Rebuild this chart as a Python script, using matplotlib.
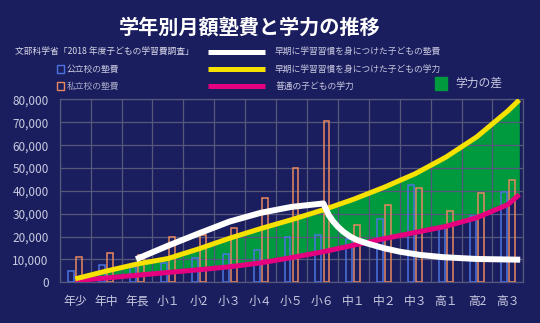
import numpy as np
import matplotlib
matplotlib.use("Agg")
from matplotlib import pyplot as plt
from matplotlib.lines import Line2D
from matplotlib.patches import Rectangle

plt.rcParams['font.family'] = ['Noto Sans CJK JP', 'DejaVu Sans']

# Grades and monthly cram-school costs (yen)
grades = ["年少", "年中", "年長", "小１", "小2", "小３", "小４", "小５", "小６",
          "中１", "中２", "中３", "高１", "高2", "高３"]
public_cost = [4800, 7500, 6900, 8300, 10500, 12300, 14200, 20000, 20700,
               19000, 27800, 42500, 24700, 29000, 39700]
private_cost = [11200, 13000, 12000, 20000, 20500, 23700, 36800, 50000, 70400,
                24900, 33900, 41200, 31400, 39100, 44600]

# Ability curves (yellow: early study habit, pink: ordinary)
curve_x = [0, 1, 2, 3, 4, 5, 6, 7, 8, 9, 10, 11, 12, 13, 14, 14.37]
early_ability = [1500, 4900, 8000, 10400, 14650, 19300, 23500, 27400, 31600,
                 36300, 41600, 47500, 54800, 63700, 75000, 79800]
normal_ability = [700, 1900, 3100, 4300, 5500, 6800, 8500, 10800, 13300,
                  16200, 19100, 21800, 24500, 28300, 34000, 38400]

# Cram cost of children with early study habit (white)
white_x = [1.97, 3, 4, 5, 6, 7, 8.03, 8.1, 8.2, 8.35, 8.5, 8.67, 8.9, 9.11,
           9.5, 10, 10.5, 11.15, 11.9, 13, 14.4]
white_cost = [10100, 16000, 21400, 26600, 30400, 33000, 34500, 32500, 29500,
              26600, 24300, 22200, 20000, 18550, 16800, 14900, 13400, 12000,
              11000, 10200, 9900]

bg = '#1b1e5e'
grid_c = '#55587a'
text_c = '#c8cae0'
blue = '#4a74e0'
orange = '#e8875f'
green = '#009a3e'
yellow = '#f7e100'
pink = '#e4007f'

fig = plt.figure(figsize=(5.4, 3.23), dpi=100, facecolor=bg)
ax = fig.add_axes([0.1107, 0.126, 0.8584, 0.566], facecolor=bg)

x = np.arange(len(grades))
ax.fill_between(curve_x, normal_ability, early_ability, color=green, zorder=1, linewidth=0)
ax.bar(x - 0.13, public_cost, width=0.19, fill=False, edgecolor=blue, linewidth=1.1, zorder=2.6)
ax.bar(x + 0.13, private_cost, width=0.19, fill=False, edgecolor=orange, linewidth=1.1, zorder=2.6)
ax.plot(curve_x, normal_ability, color=pink, linewidth=3.6, solid_capstyle='butt', zorder=3)
ax.plot(curve_x, early_ability, color=yellow, linewidth=3.6, solid_capstyle='butt', zorder=3.1)
ax.plot(white_x, white_cost, color='white', linewidth=4.3, solid_capstyle='butt',
        solid_joinstyle='round', zorder=4)

ax.set_xlim(-0.5, 14.5)
ax.set_ylim(0, 80000)
ax.set_xticks(x)
ax.set_xticklabels(grades)
ax.set_xticks(np.arange(-0.5, 15, 1), minor=True)
ax.set_yticks(np.arange(0, 80001, 10000))
ax.yaxis.set_major_formatter(matplotlib.ticker.FuncFormatter(lambda v, p: f"{int(v):,}"))
ax.set_axisbelow(False)
ax.grid(True, axis='y', which='major', color=grid_c, linewidth=0.9)
ax.grid(True, axis='x', which='minor', color=grid_c, linewidth=0.9)
ax.tick_params(axis='both', which='both', length=0, colors=text_c, labelsize=8.5)
ax.tick_params(axis='x', pad=9)
ax.tick_params(axis='y', pad=8)
for s in ax.spines.values():
    s.set_color(grid_c)
    s.set_linewidth(0.9)

# Title
fig.text(250 / 540, 1 - 27 / 323, "学年別月額塾費と学力の推移", color='white',
         fontsize=14.5, fontweight='bold', ha='center', va='center')

# Legend, drawn by hand
def fy(py):
    return 1 - py / 323

def fx(px):
    return px / 540

leg_fs = 6.3
fig.text(fx(15), fy(51.5), "文部科学省「2018 年度子どもの学習費調査」", color='#d8d8e8',
         fontsize=leg_fs, va='center')
fig.patches.append(Rectangle((fx(57), fy(72.5)), fx(7), 7 / 323, fill=False,
                             edgecolor=blue, linewidth=1, transform=fig.transFigure))
fig.text(fx(67), fy(69), "公立校の塾費", color='#c8c8e0', fontsize=leg_fs, va='center')
fig.patches.append(Rectangle((fx(57), fy(89.5)), fx(7), 7 / 323, fill=False,
                             edgecolor=orange, linewidth=1, transform=fig.transFigure))
fig.text(fx(67), fy(86), "私立校の塾費", color='#a8a8c8', fontsize=leg_fs, va='center')

legend_lines = [('white', 51.5, "早期に学習習慣を身につけた子どもの塾費"),
                (yellow, 69, "早期に学習習慣を身につけた子どもの学力"),
                (pink, 86, "普通の子どもの学力")]
for col, py, label in legend_lines:
    fig.lines.append(Line2D([fx(208), fx(265)], [fy(py), fy(py)], color=col, linewidth=3.6,
                            solid_capstyle='butt', transform=fig.transFigure))
    fig.text(fx(275), fy(py), label, color='#c8c8e0', fontsize=leg_fs, va='center')

fig.patches.append(Rectangle((fx(435), fy(90)), fx(12), 13 / 323, color=green,
                             transform=fig.transFigure))
fig.text(fx(455), fy(83), "学力の差", color='#c8c8e0', fontsize=8.5, va='center')

fig.savefig("out.png", dpi=100, facecolor=bg)
